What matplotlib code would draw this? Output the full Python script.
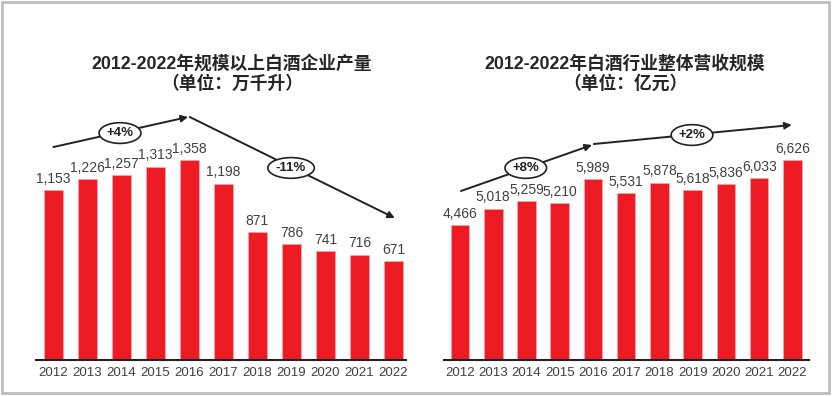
import matplotlib
matplotlib.use("Agg")
import matplotlib.pyplot as plt
from matplotlib.patches import Rectangle

years = ["2012", "2013", "2014", "2015", "2016", "2017", "2018", "2019", "2020", "2021", "2022"]
production = [1153, 1226, 1257, 1313, 1358, 1198, 871, 786, 741, 716, 671]
revenue = [4466, 5018, 5259, 5210, 5989, 5531, 5878, 5618, 5836, 6033, 6626]

title_left = "2012-2022年规模以上白酒企业产量\n（单位：万千升）"
title_right = "2012-2022年白酒行业整体营收规模\n（单位：亿元）"

# growth annotations: (start idx, start val, end idx, end val), (label idx, label val, text)
left_arrows = [(0.0, 1446, 3.96, 1650), (4.01, 1650, 10.04, 964)]
left_labels = [(1.96, 1541, "+4%"), (6.99, 1304, "-11%")]
right_arrows = [(0.03, 5599, 3.97, 7123), (4.03, 7156, 9.98, 7786)]
right_labels = [(1.98, 6361, "+8%"), (6.98, 7454, "+2%")]

RED = "#ED1C24"
W, H = 834, 396
fig = plt.figure(figsize=(W / 100, H / 100), dpi=100)
fig.patch.set_facecolor("white")

fam = ["Liberation Sans", "Noto Sans CJK SC", "DejaVu Sans"]


def px_axes(x0, x1, ytop, ybot):
    return fig.add_axes([x0 / W, 1 - ybot / H, (x1 - x0) / W, (ybot - ytop) / H])


def draw(ax, values, ymax, xlim, arrows, labels, title, title_x):
    x = list(range(len(values)))
    bars = ax.bar(x, values, width=0.56, color=RED, edgecolor="#F7A7AA", linewidth=0.5, zorder=2)
    ax.set_xlim(*xlim)
    ax.set_ylim(0, ymax)
    for s in ["left", "right", "top"]:
        ax.spines[s].set_visible(False)
    ax.spines["bottom"].set_color("#222222")
    ax.spines["bottom"].set_linewidth(1.5)
    ax.set_yticks([])
    ax.set_xticks(x)
    ax.set_xticklabels(years, fontsize=9.5, color="#404040", family=fam)
    ax.tick_params(axis="x", length=0, pad=5)
    for b, v in zip(bars, values):
        ax.annotate(f"{v:,}", (b.get_x() + b.get_width() / 2, v), xytext=(0, 3),
                    textcoords="offset points", ha="center", va="bottom",
                    fontsize=10, color="#404040", family=fam)
    for (xs, ys, xe, ye) in arrows:
        ax.annotate("", xy=(xe, ye), xytext=(xs, ys),
                    arrowprops=dict(arrowstyle="-|>", color="#222222", lw=1.4,
                                    mutation_scale=10, shrinkA=0, shrinkB=0),
                    annotation_clip=False)
    for (lx, ly, t) in labels:
        ax.text(lx, ly, t, ha="center", va="center", fontsize=9.5, fontweight="bold",
                color="#222222", family=fam, zorder=5,
                bbox=dict(boxstyle="ellipse,pad=0.1", fc="white", ec="#222222", lw=1.2))
    fig.text(title_x / W, 1 - 74 / H, title, ha="center", va="center", fontsize=12.8,
             fontweight="bold", color="#262626", family=fam, linespacing=1.2)


axL = px_axes(36, 406, 100, 360)
draw(axL, production, 1358 * 260 / 200, (-0.51, 10.37), left_arrows, left_labels, title_left, 232)
axR = px_axes(444, 809, 100, 360)
draw(axR, revenue, 6626 * 260 / 200, (-0.48, 10.5), right_arrows, right_labels, title_right, 625)

fig.patches.append(Rectangle((1.5 / W, 3 / H), (829 - 1.5) / W, (394.5 - 3) / H,
                             transform=fig.transFigure, fill=False, ec="#BDBDBD", lw=2))

fig.savefig("out.png", dpi=100)
